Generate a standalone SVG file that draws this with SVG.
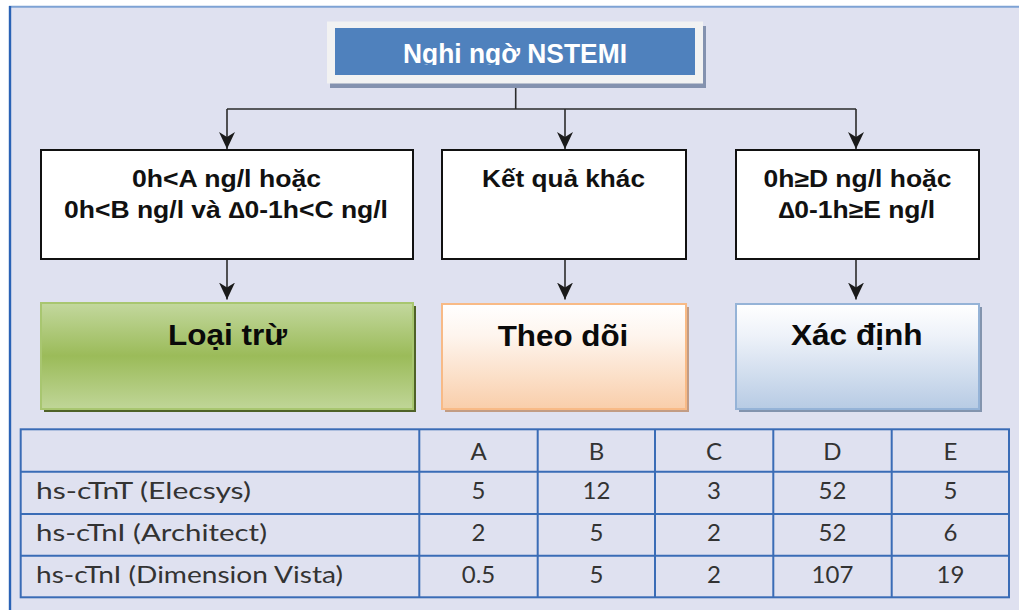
<svg xmlns="http://www.w3.org/2000/svg" width="1019" height="610" viewBox="0 0 1019 610">
  <defs>
    <linearGradient id="gGreen" x1="0" y1="0" x2="0" y2="1">
      <stop offset="0" stop-color="#C3D89E"/>
      <stop offset="0.5" stop-color="#9BBB59"/>
      <stop offset="1" stop-color="#C0D698"/>
    </linearGradient>
    <linearGradient id="gPeach" x1="0" y1="0" x2="0" y2="1">
      <stop offset="0" stop-color="#FFFFFF"/>
      <stop offset="0.3" stop-color="#FEF5EE"/>
      <stop offset="1" stop-color="#F9CEAA"/>
    </linearGradient>
    <linearGradient id="gBlue" x1="0" y1="0" x2="0" y2="1">
      <stop offset="0" stop-color="#FFFFFF"/>
      <stop offset="0.3" stop-color="#EEF2F9"/>
      <stop offset="1" stop-color="#B7CBE4"/>
    </linearGradient>
    <marker id="arrow" markerUnits="userSpaceOnUse" viewBox="0 0 17 16" markerWidth="17" markerHeight="16" refX="17" refY="8" orient="auto">
      <path d="M0,0 L17,8 L0,16 L5,8 Z" fill="#1A1A1A"/>
    </marker>
    <clipPath id="titleClip">
      <rect x="335" y="28" width="360" height="37"/>
    </clipPath>
  </defs>
  <style>
    .cond { font-family: "Liberation Sans", Arial, sans-serif; font-weight: bold; font-size: 23px; fill: #111111; text-anchor: middle; }
    .out { font-family: "Liberation Sans", Arial, sans-serif; font-weight: bold; font-size: 29px; fill: #0A0A0A; text-anchor: middle; }
    .title { font-family: "Liberation Sans", Arial, sans-serif; font-weight: bold; font-size: 27px; fill: #FFFFFF; }
    .box { fill: #FFFFFF; stroke: #111111; stroke-width: 2; }
    .edge { fill: none; stroke: #2B2B2B; stroke-width: 1.6; }
    .grid { fill: none; stroke: #3A6CB6; stroke-width: 2; }
    .tbl { font-family: Lato, "Open Sans", sans-serif; font-size: 24px; fill: #333333; }
    .mid { text-anchor: middle; }
  </style>

  <!-- page frame -->
  <rect x="0" y="0" width="1019" height="610" fill="#FFFFFF"/>
  <rect x="10" y="6" width="1009" height="604" fill="#DFE1F0"/>
  <line x1="9" y1="6.8" x2="1019" y2="6.8" stroke="#7EA2D4" stroke-width="2"/>
  <line x1="10" y1="6" x2="10" y2="610" stroke="#2A62B5" stroke-width="2.4"/>

  <!-- connectors -->
  <g id="connectors">
    <path class="edge" d="M515.7,83 V109 M227,109 H856"/>
    <path class="edge" d="M227,109 V149" marker-end="url(#arrow)"/>
    <path class="edge" d="M565,109 V149" marker-end="url(#arrow)"/>
    <path class="edge" d="M856,109 V149" marker-end="url(#arrow)"/>
    <path class="edge" d="M227,259 V299.5" marker-end="url(#arrow)"/>
    <path class="edge" d="M565,259 V299.5" marker-end="url(#arrow)"/>
    <path class="edge" d="M856,259 V299.5" marker-end="url(#arrow)"/>
  </g>

  <!-- start node -->
  <g id="node-start">
    <rect x="330" y="26" width="376" height="62" fill="#8492AF"/>
    <rect x="327" y="21.5" width="376" height="62" fill="#F2F2F2"/>
    <rect x="335" y="28" width="360" height="47" fill="#4F81BD"/>
    <text class="title" x="403" y="63" textLength="224" lengthAdjust="spacingAndGlyphs" clip-path="url(#titleClip)">Nghi ngờ NSTEMI</text>
  </g>

  <!-- condition nodes -->
  <g id="node-rule-out-criteria">
    <rect class="box" x="41" y="150" width="372" height="109"/>
    <text class="cond" x="226.5" y="187" textLength="189" lengthAdjust="spacingAndGlyphs">0h&lt;A ng/l hoặc</text>
    <text class="cond" x="226" y="217.5" textLength="324" lengthAdjust="spacingAndGlyphs">0h&lt;B ng/l và ∆0-1h&lt;C ng/l</text>
  </g>
  <g id="node-other-results">
    <rect class="box" x="442" y="150" width="244" height="109"/>
    <text class="cond" x="563.5" y="186.5" textLength="163" lengthAdjust="spacingAndGlyphs">Kết quả khác</text>
  </g>
  <g id="node-rule-in-criteria">
    <rect class="box" x="736" y="150" width="243" height="109"/>
    <text class="cond" x="857.5" y="186.5" textLength="188" lengthAdjust="spacingAndGlyphs">0h≥D ng/l hoặc</text>
    <text class="cond" x="856.7" y="217.5" textLength="157" lengthAdjust="spacingAndGlyphs">∆0-1h≥E ng/l</text>
  </g>

  <!-- outcome nodes -->
  <g id="node-rule-out">
    <rect x="44" y="306" width="372" height="106" fill="#4F6228"/>
    <rect x="41" y="303" width="372" height="106" fill="url(#gGreen)" stroke="#A8C670" stroke-width="2"/>
    <text class="out" x="227.5" y="344.5" textLength="119" lengthAdjust="spacingAndGlyphs">Loại trừ</text>
  </g>
  <g id="node-observe">
    <rect x="445" y="307" width="244" height="105" fill="#C29C84"/>
    <rect x="442" y="304" width="244" height="105" fill="url(#gPeach)" stroke="#F8BA86" stroke-width="2"/>
    <text class="out" x="563" y="345.5" textLength="130.6" lengthAdjust="spacingAndGlyphs">Theo dõi</text>
  </g>
  <g id="node-rule-in">
    <rect x="739" y="307" width="243" height="105" fill="#8394AE"/>
    <rect x="736" y="304" width="243" height="105" fill="url(#gBlue)" stroke="#95B3D7" stroke-width="2"/>
    <text class="out" x="856.8" y="345" textLength="131.7" lengthAdjust="spacingAndGlyphs">Xác định</text>
  </g>

  <!-- cut-off table -->
  <g id="cutoff-table">
    <rect class="grid" x="20.7" y="429.3" width="988.3" height="168"/>
    <path class="grid" d="M20.7,471.7 H1009 M20.7,514 H1009 M20.7,555.7 H1009 M419.3,429.3 V597.3 M537.7,429.3 V597.3 M655,429.3 V597.3 M773.3,429.3 V597.3 M891.7,429.3 V597.3"/>

    <g class="tbl mid">
      <text x="478.5" y="460">A</text>
      <text x="596.5" y="460">B</text>
      <text x="714" y="460">C</text>
      <text x="832.5" y="460">D</text>
      <text x="950.5" y="460">E</text>
    </g>

    <text class="tbl" x="36" y="499" textLength="215" lengthAdjust="spacingAndGlyphs">hs-cTnT (Elecsys)</text>
    <text class="tbl" x="36" y="540.5" textLength="231" lengthAdjust="spacingAndGlyphs">hs-cTnI (Architect)</text>
    <text class="tbl" x="36" y="582.5" textLength="307" lengthAdjust="spacingAndGlyphs">hs-cTnI (Dimension Vista)</text>

    <g class="tbl mid">
      <text x="478.5" y="499">5</text>
      <text x="596.5" y="499">12</text>
      <text x="714" y="499">3</text>
      <text x="832.5" y="499">52</text>
      <text x="950.5" y="499">5</text>

      <text x="478.5" y="540.5">2</text>
      <text x="596.5" y="540.5">5</text>
      <text x="714" y="540.5">2</text>
      <text x="832.5" y="540.5">52</text>
      <text x="950.5" y="540.5">6</text>

      <text x="478.5" y="582.5">0.5</text>
      <text x="596.5" y="582.5">5</text>
      <text x="714" y="582.5">2</text>
      <text x="832.5" y="582.5">107</text>
      <text x="950.5" y="582.5">19</text>
    </g>
  </g>
</svg>
